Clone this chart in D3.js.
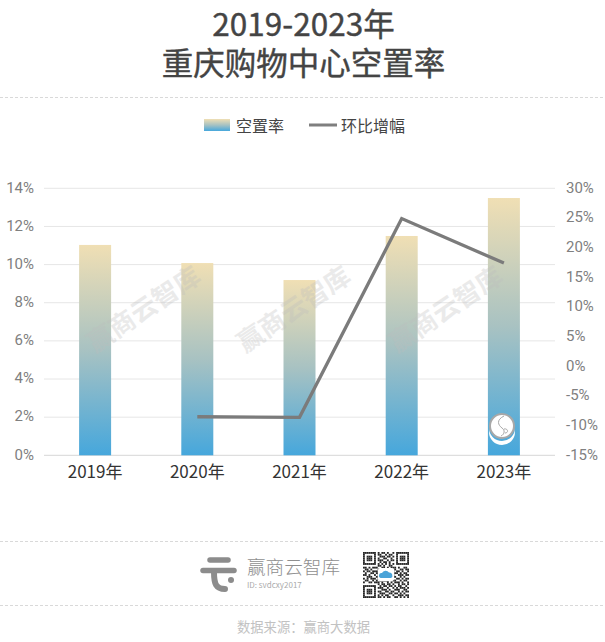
<!DOCTYPE html>
<html>
<head>
<meta charset="utf-8">
<script src="https://cdnjs.cloudflare.com/ajax/libs/d3/7.8.5/d3.min.js"></script>
<style>
html, body { margin:0; padding:0; background:#fff; }
svg { display:block; }
text { font-family:"Noto Sans CJK SC","Noto Sans",sans-serif; }
.tick text { font-family:"Roboto","Noto Sans",sans-serif; }
</style>
</head>
<body>
<svg id="chart"></svg>
<script>
var years = ["2019年","2020年","2021年","2022年","2023年"];
var vacancy = [11.03,10.08,9.19,11.5,13.49];
var growth = [null,-8.5,-8.6,24.9,17.4];
var leftTicks = [0,2,4,6,8,10,12,14];
var rightTicks = [-15,-10,-5,0,5,10,15,20,25,30];
var titleLines = ["2019-2023年","重庆购物中心空置率"];
var legendNames = ["空置率","环比增幅"];
var brandName = "赢商云智库";
var brandId = "ID: svdcxy2017";
var sourceNote = "数据来源：赢商大数据";
var qrRows = [
    "1111111010110100101111111",
    "1000001011001011001000001",
    "1011101001110110101011101",
    "1011101010011001001011101",
    "1011101011100101101011101",
    "1000001001011010001000001",
    "1111111010101010101111111",
    "0000000011010011000000000",
    "1101011100110101110100110",
    "0110100011011100010011011",
    "1011011101000000101101001",
    "0100110110000000011010110",
    "1101001010000000100111011",
    "0011100100000000110010100",
    "1010111011100011001101011",
    "0110010101011100110010110",
    "1001101110100101011101001",
    "0000000010110110100101101",
    "1111111001011011010110010",
    "1000001011100100101011101",
    "1011101000111010011100110",
    "1011101011001101100101011",
    "1011101001110011011010100",
    "1000001010101100100111011",
    "1111111011010110011010101"
];

var screen = {width:605, height:642};
var margins = {top:188.3, bottom:186.7, left:44, right:50};
var graph = {
    width:screen.width-margins.left-margins.right,
    height:screen.height-margins.top-margins.bottom
};

var svg = d3.select("#chart")
    .attr("width",screen.width)
    .attr("height",screen.height);

var defs = svg.append("defs");
var grad = defs.append("linearGradient")
    .attr("id","barFill")
    .attr("x1",0).attr("y1",0).attr("x2",0).attr("y2",1);
grad.append("stop").attr("offset","0%").attr("stop-color","#f0dfb4");
grad.append("stop").attr("offset","50%").attr("stop-color","#a8c2c2");
grad.append("stop").attr("offset","100%").attr("stop-color","#46a7dc");

// titles
svg.selectAll(".title")
    .data(titleLines)
    .enter()
    .append("text")
    .classed("title",true)
    .text(d=>d)
    .attr("x",screen.width/2+1)
    .attr("y",(d,i)=>36+i*38.5)
    .attr("text-anchor","middle")
    .attr("font-size",31.5)
    .attr("font-weight",400)
    .attr("stroke","#444")
    .attr("stroke-width",0.4)
    .attr("fill","#444");

// dashed rules
[97.5,541.5,605.5].forEach(function(y){
    svg.append("line")
        .attr("x1",0).attr("x2",screen.width)
        .attr("y1",y).attr("y2",y)
        .attr("stroke","#d9d9d9")
        .attr("stroke-dasharray","3,2");
});

// legend
svg.append("rect")
    .attr("x",204).attr("y",119).attr("width",26).attr("height",12)
    .attr("fill","url(#barFill)");
svg.append("text").text(legendNames[0])
    .attr("x",236).attr("y",131.5).attr("font-size",16).attr("fill","#444");
svg.append("line")
    .attr("x1",309).attr("x2",337).attr("y1",125).attr("y2",125)
    .attr("stroke","#7f7f7f").attr("stroke-width",3);
svg.append("text").text(legendNames[1])
    .attr("x",341).attr("y",131.5).attr("font-size",16).attr("fill","#444");

// scales
var xScale = d3.scaleBand()
    .domain(years)
    .range([0,graph.width]);
var yLeft = d3.scaleLinear().domain([0,14]).range([graph.height,0]);
var yRight = d3.scaleLinear().domain([-15,30]).range([graph.height,0]);

var g = svg.append("g")
    .attr("transform","translate("+margins.left+","+margins.top+")");

// gridlines
g.append("g").selectAll("line")
    .data(leftTicks)
    .enter()
    .append("line")
    .attr("x1",0).attr("x2",graph.width)
    .attr("y1",d=>yLeft(d)).attr("y2",d=>yLeft(d))
    .attr("stroke",d=>d==0?"#d6d6d6":"#e6e6e6");

// bars
var barWidth = 32;
g.append("g").selectAll("rect")
    .data(vacancy)
    .enter()
    .append("rect")
    .attr("x",(d,i)=>xScale(years[i])+xScale.bandwidth()/2-barWidth/2)
    .attr("y",d=>yLeft(d))
    .attr("width",barWidth)
    .attr("height",d=>graph.height-yLeft(d))
    .attr("fill","url(#barFill)");

// line
var line = d3.line()
    .defined(d=>d!==null)
    .x((d,i)=>xScale(years[i])+xScale.bandwidth()/2)
    .y(d=>yRight(d));
g.append("path")
    .datum(growth)
    .attr("d",line)
    .attr("fill","none")
    .attr("stroke","#7b7b7b")
    .attr("stroke-width",3.3);

// axes
var xAxis = d3.axisBottom(xScale).tickSize(0).tickPadding(11);
var leftAxis = d3.axisLeft(yLeft).tickValues(leftTicks).tickSize(0).tickPadding(10).tickFormat(d=>d+"%");
var rightAxis = d3.axisRight(yRight).tickValues(rightTicks).tickSize(0).tickPadding(11).tickFormat(d=>d+"%");

var xG = g.append("g").attr("transform","translate(0,"+graph.height+")").call(xAxis);
xG.select(".domain").remove();
xG.selectAll("text").attr("font-size",17).attr("fill","#333");
xG.selectAll("text").style("font-family",'"Noto Sans CJK SC",sans-serif');

var lG = g.append("g").attr("transform","translate(0,-1)").call(leftAxis);
lG.select(".domain").remove();
lG.selectAll("text").attr("font-size",15).attr("fill","#808080");

var rG = g.append("g").attr("transform","translate("+graph.width+",-1)").call(rightAxis);
rG.select(".domain").remove();
rG.selectAll("text").attr("font-size",15).attr("fill","#808080");

// faint watermarks over the plot
[[145,311],[295,311],[447,311]].forEach(function(p){
    svg.append("text").text(brandName)
        .attr("transform","translate("+p[0]+","+p[1]+") rotate(-34)")
        .attr("text-anchor","middle")
        .attr("dominant-baseline","middle")
        .attr("font-size",26)
        .attr("font-weight",700)
        .attr("fill","#bdbdbd")
        .attr("opacity",0.3);
});

// round badge on the last bar
var badge = svg.append("g").attr("transform","translate(502,426)");
badge.append("path")
    .attr("d","M-13,2A13,13 0 0 0 13,2L13,6A13,13 0 0 1 -13,6Z")
    .attr("fill","#fff");
badge.append("circle")
    .attr("r",12)
    .attr("fill","#fff")
    .attr("stroke","#a8a8a8")
    .attr("stroke-width",2);
badge.append("path")
    .attr("d","M2,-10C-6,-6 -4,-1 0,2C3,4 3,8 -1,10M2,3C6,2 7,7 3,7")
    .attr("fill","none")
    .attr("stroke","#a8a8a8")
    .attr("stroke-width",1);

// footer logo
var logo = svg.append("g")
    .attr("stroke","#8c8c8c")
    .attr("stroke-linecap","round")
    .attr("fill","none");
logo.append("line").attr("x1",210).attr("x2",228).attr("y1",560).attr("y2",560).attr("stroke-width",5.5);
logo.append("line").attr("x1",203).attr("x2",234).attr("y1",570.5).attr("y2",570.5).attr("stroke-width",5.5);
logo.append("path").attr("d","M214,572C214,584 216,589 225,589").attr("stroke-width",6);
svg.append("circle").attr("cx",231).attr("cy",580).attr("r",3).attr("fill","#8c8c8c");

svg.append("text").text(brandName)
    .attr("x",247).attr("y",574)
    .attr("font-size",18.6)
    .attr("font-weight",300)
    .attr("fill","#8f8f8f");
svg.append("text").text(brandId)
    .attr("x",247).attr("y",588)
    .attr("font-size",8)
    .attr("fill","#ababab");

// QR block
var qrX = d3.scaleBand().domain(d3.range(25)).range([363,409]);
var qrY = d3.scaleBand().domain(d3.range(25)).range([552,598]);
var qr = svg.append("g");
qrRows.forEach(function(row,r){
    row.split("").forEach(function(c,k){
        if(c=="1"){
            qr.append("rect")
                .attr("x",qrX(k)).attr("y",qrY(r))
                .attr("width",qrX.bandwidth()).attr("height",qrY.bandwidth())
                .attr("fill","#262626");
        }
    });
});
qr.append("rect")
    .attr("x",378).attr("y",568).attr("width",16).attr("height",13)
    .attr("rx",2)
    .attr("fill","#fff");
qr.append("path")
    .attr("d","M381,578A2.5,2.5 0 0 1 382,573A4,4 0 0 1 389,572.5A3,3 0 0 1 391,578Z")
    .attr("fill","#4aa3d8");

// source note
svg.append("text").text(sourceNote)
    .attr("x",303.5).attr("y",632)
    .attr("text-anchor","middle")
    .attr("font-size",13.3)
    .attr("fill","#c2c2c2");
</script>
</body>
</html>
